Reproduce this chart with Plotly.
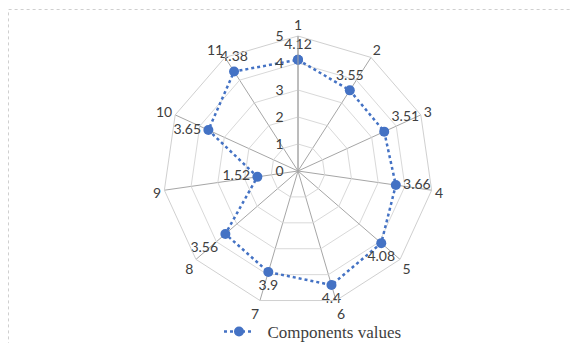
import plotly.graph_objects as go

categories = ["1", "2", "3", "4", "5", "6", "7", "8", "9", "10", "11"]
values = [4.12, 3.55, 3.51, 3.66, 4.08, 4.4, 3.9, 3.56, 1.52, 3.65, 4.38]
labels = ["4.12", "3.55", "3.51", "3.66", "4.08", "4.4", "3.9", "3.56", "1.52", "3.65", "4.38"]
label_pos = ["top center", "top center", "top right", "middle right", "bottom center",
             "bottom center", "bottom center", "bottom left", "middle left",
             "middle left", "top center"]
radial_ticks = [0, 1, 2, 3, 4, 5]
series_name = "\u00a0\u00a0Components values"

BLUE = "#4472C4"
TXT = "#404040"
W, H = 580, 343
OFF = 8  # page body margin offset

def px_x(x):
    return (x - OFF) / W

def px_y(y):
    return 1 - (y - OFF) / H

fig = go.Figure()
fig.add_trace(go.Scatterpolar(
    r=values + [values[0]],
    theta=categories + [categories[0]],
    mode="lines+markers+text",
    text=labels + [""],
    textposition=label_pos + ["top center"],
    textfont=dict(family="Lato, Liberation Sans, sans-serif", size=14, color=TXT),
    line=dict(color=BLUE, width=2.5, dash="dot"),
    marker=dict(color=BLUE, size=10),
    name=series_name,
    showlegend=True,
    cliponaxis=False,
))

fig.update_layout(
    width=W, height=H,
    margin=dict(l=0, r=0, t=0, b=0),
    paper_bgcolor="white",
    font=dict(family="Lato, Liberation Sans, sans-serif", size=14, color=TXT),
    polar=dict(
        domain=dict(x=[px_x(163), px_x(433)], y=[px_y(306), px_y(36)]),
        bgcolor="white",
        gridshape="linear",
        angularaxis=dict(
            direction="clockwise", rotation=90, type="category",
            categoryarray=categories,
            showline=True, linecolor="#d0d0d0", linewidth=1,
            gridcolor="#a6a6a6", gridwidth=1,
            ticks="", tickfont=dict(size=14, color=TXT),
        ),
        radialaxis=dict(
            range=[0, 5], tickvals=radial_ticks, angle=90,
            side="counterclockwise", tickangle=90,
            showline=True, linecolor="#a6a6a6", linewidth=1,
            gridcolor="#d9d9d9", gridwidth=1,
            ticks="outside", ticklen=9, tickcolor="rgba(0,0,0,0)",
            tickfont=dict(size=14, color=TXT),
        ),
    ),
    legend=dict(
        orientation="h", x=px_x(313), xanchor="center", y=px_y(332), yanchor="middle",
        font=dict(family="Liberation Serif, Times New Roman, serif", size=17, color=TXT),
        bgcolor="rgba(0,0,0,0)",
    ),
    shapes=[dict(type="rect", xref="paper", yref="paper",
                 x0=px_x(8.5), x1=px_x(579), y0=-0.2, y1=px_y(9.5),
                 line=dict(color="#cfcfcf", width=1, dash="dot"))],
)

fig.write_html("out.html")
